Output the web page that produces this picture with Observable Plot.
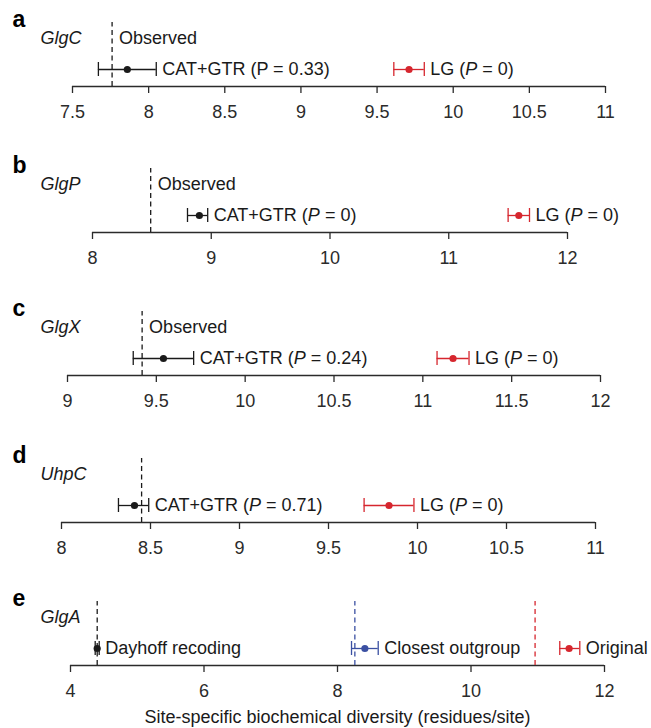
<!DOCTYPE html>
<html><head><meta charset="utf-8">
<script src="https://cdn.jsdelivr.net/npm/d3@7"></script>
<script src="https://cdn.jsdelivr.net/npm/@observablehq/plot@0.6"></script>
<style>
html,body{margin:0;padding:0;background:#fff;}
#chart{width:651px;}
#chart svg{display:block;overflow:visible;}
</style></head><body><div id="chart"></div>
<script>
// ---------- data ----------
const panelLetters = ["a", "b", "c", "d", "e"];
const genes = ["GlgC", "GlgP", "GlgX", "UhpC", "GlgA"];
const xDomains = [[7.5, 11], [8, 12], [9, 12], [8, 11], [4, 12]];
const xTicks = [
  [7.5, 8, 8.5, 9, 9.5, 10, 10.5, 11],
  [8, 9, 10, 11, 12],
  [9, 9.5, 10, 10.5, 11, 11.5, 12],
  [8, 8.5, 9, 9.5, 10, 10.5, 11],
  [4, 6, 8, 10, 12]
];
// panels a–d
const observed = [7.76, 8.49, 9.42, 8.45];
const observedLabels = ["Observed", "Observed", "Observed", ""];
const catMean = [7.86, 8.90, 9.54, 8.41];
const catLow = [7.67, 8.80, 9.37, 8.32];
const catHigh = [8.05, 8.97, 9.71, 8.49];
const catLabels = ["CAT+GTR (P = 0.33)", "CAT+GTR (*P* = 0)", "CAT+GTR (*P* = 0.24)", "CAT+GTR (*P* = 0.71)"];
const lgMean = [9.71, 11.59, 11.17, 9.84];
const lgLow = [9.61, 11.50, 11.08, 9.70];
const lgHigh = [9.81, 11.68, 11.26, 9.98];
const lgLabels = ["LG (*P* = 0)", "LG (*P* = 0)", "LG (*P* = 0)", "LG (*P* = 0)"];
// panel e
const glgaSeries = ["Dayhoff recoding", "Closest outgroup", "Original"];
const glgaObserved = [4.40, 8.26, 10.96];
const glgaMean = [4.40, 8.41, 11.47];
const glgaLow = [4.37, 8.21, 11.33];
const glgaHigh = [4.43, 8.61, 11.63];
const xTitle = "Site-specific biochemical diversity (residues/site)";

// ---------- layout / style ----------
const W = 651;
const FONT = "'Liberation Sans', Arial, Helvetica, sans-serif";
const layout = [
  {left: 72, right: 605, height: 146},
  {left: 92, right: 567, height: 143},
  {left: 67, right: 600, height: 147},
  {left: 61, right: 595, height: 143},
  {left: 70, right: 604, height: 149}
];
const AXIS_Y = 86;
const ROW = {ci: 17, title: 48, letter: 67, dashTop: 64, capHalf: 7};
const INK = "#1a1a1a";
const AXIS_INK = "#2b2b2b";
const RED = "#d6262e";
const BLUE = "#3b50a2";
const glgaColors = [INK, BLUE, RED];
const FS = 18;

function italicize(svg) {
  svg.querySelectorAll("text").forEach(t => {
    if (t.querySelector("tspan")) return;
    const s = t.textContent;
    if (!s.includes("*")) return;
    const parts = s.split("*");
    t.textContent = "";
    parts.forEach((p, k) => {
      const ts = document.createElementNS("http://www.w3.org/2000/svg", "tspan");
      ts.textContent = p;
      if (k % 2) ts.setAttribute("font-style", "italic");
      t.appendChild(ts);
    });
  });
}

function makePanel(i, rows, dashes, obsLabel, isLast) {
  const L = layout[i];
  const dom = xDomains[i];
  const marks = [
    Plot.ruleY([0], {y: d => d, x1: () => dom[0], x2: () => dom[1], stroke: AXIS_INK, strokeWidth: 1.3}),
    Plot.axisX({ticks: xTicks[i], tickFormat: d => String(d), tickSize: 7, tickPadding: 12,
      fontSize: FS, color: AXIS_INK, strokeWidth: 1.3}),
    Plot.ruleX(dashes, {x: "value", y1: () => 0, y2: () => ROW.dashTop, stroke: "color",
      strokeDasharray: "5,3.5", strokeWidth: 1.3}),
    // letter and gene name (in the left margin)
    Plot.text([panelLetters[i]], {frameAnchor: "left", y: () => ROW.letter, text: d => d,
      dx: 12 - L.left, textAnchor: "start", fontSize: 23, fontWeight: "bold", fill: "#000"}),
    Plot.text([genes[i]], {frameAnchor: "left", y: () => ROW.title, text: d => d,
      dx: 40 - L.left, textAnchor: "start", fontSize: FS, fontStyle: "italic", fill: INK}),
    // intervals
    Plot.ruleY(rows, {x1: "lo", x2: "hi", y: () => ROW.ci, stroke: "color", strokeWidth: 1.3}),
    Plot.ruleX(rows, {x: "lo", y1: () => ROW.ci - ROW.capHalf, y2: () => ROW.ci + ROW.capHalf, stroke: "color", strokeWidth: 1.3}),
    Plot.ruleX(rows, {x: "hi", y1: () => ROW.ci - ROW.capHalf, y2: () => ROW.ci + ROW.capHalf, stroke: "color", strokeWidth: 1.3}),
    Plot.dot(rows, {x: "mean", y: () => ROW.ci, r: 3.6, fill: "color", stroke: "none"}),
    Plot.text(rows, {x: "hi", y: () => ROW.ci, text: "label", textAnchor: "start", dx: 6,
      fontSize: FS, fill: INK})
  ];
  if (obsLabel) {
    marks.push(Plot.text(dashes, {x: "value", y: () => ROW.title, text: () => obsLabel,
      textAnchor: "start", dx: 7, fontSize: FS, fill: INK}));
  }
  if (isLast) {
    marks.push(Plot.text([xTitle], {frameAnchor: "bottom", text: d => d, dy: 57,
      fontSize: FS, fill: INK}));
  }
  const svg = Plot.plot({
    width: W,
    height: L.height,
    marginLeft: L.left,
    marginRight: W - L.right,
    marginTop: 0,
    marginBottom: L.height - AXIS_Y,
    style: {fontFamily: FONT, fontSize: FS + "px", background: "#fff", overflow: "visible"},
    x: {domain: dom},
    y: {domain: [0, AXIS_Y], axis: null},
    color: {type: "identity"},
    marks
  });
  italicize(svg);
  return svg;
}

const chart = document.getElementById("chart");
for (let i = 0; i < 4; i++) {
  const rows = [
    {mean: catMean[i], lo: catLow[i], hi: catHigh[i], label: catLabels[i], color: INK},
    {mean: lgMean[i], lo: lgLow[i], hi: lgHigh[i], label: lgLabels[i], color: RED}
  ];
  const dashes = [{value: observed[i], color: INK}];
  chart.appendChild(makePanel(i, rows, dashes, observedLabels[i], false));
}
{
  const rows = glgaSeries.map((s, k) => ({mean: glgaMean[k], lo: glgaLow[k], hi: glgaHigh[k], label: s, color: glgaColors[k]}));
  const dashes = glgaObserved.map((v, k) => ({value: v, color: glgaColors[k]}));
  chart.appendChild(makePanel(4, rows, dashes, "", true));
}
</script>
</body></html>
